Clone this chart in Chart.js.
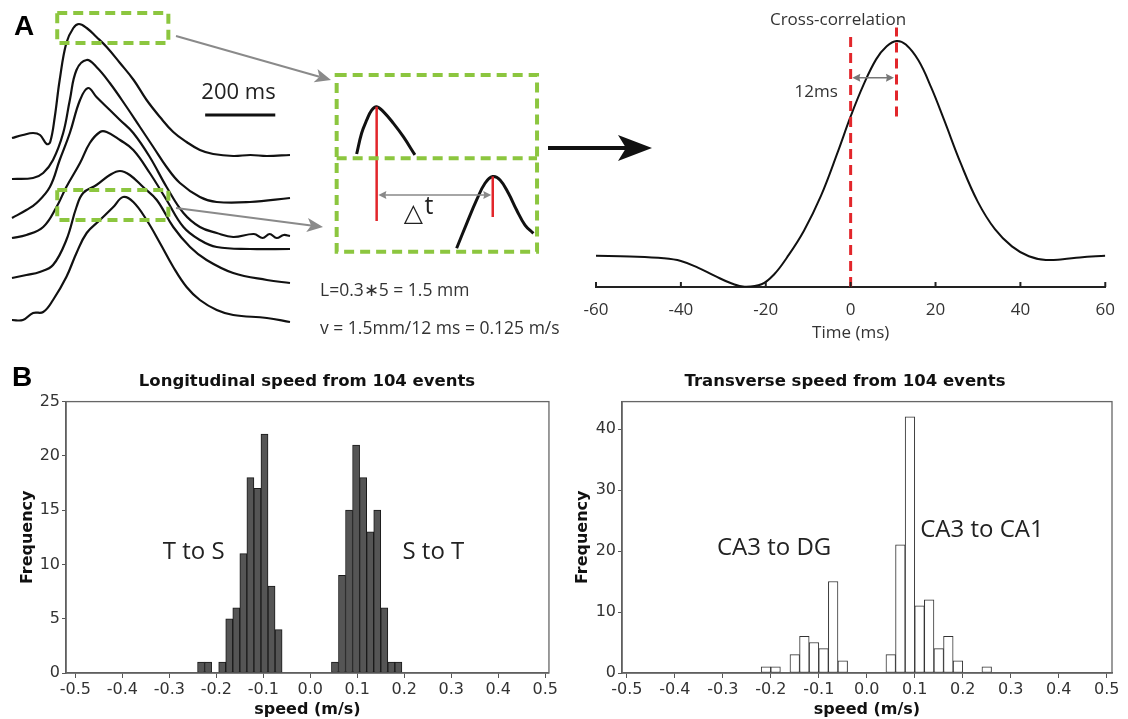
<!DOCTYPE html>
<html>
<head>
<meta charset="utf-8">
<title>Propagation speed</title>
<script src="https://cdn.jsdelivr.net/npm/chart.js@4.4.1/dist/chart.umd.min.js"></script>
<style>
  html, body { margin: 0; padding: 0; background: #fff; }
  #figure { position: relative; width: 1128px; height: 719px; overflow: hidden; }
  #figure canvas { position: absolute; }
  .label { position: absolute; white-space: nowrap; line-height: 1; transform: translate(-50%, -50%);
           color: #333; font-family: "Open Sans", sans-serif; }
  .left { transform: translate(0, -50%); }
  .panel { font-family: "Liberation Sans", Arial, sans-serif; font-weight: bold; font-size: 28px; color: #000; }
  .htitle { font-family: "DejaVu Sans", sans-serif; font-weight: bold; font-size: 16.5px; color: #111; }
</style>
</head>
<body>
<div id="figure">
  <canvas id="tracesChart" width="300" height="340" style="left:0;top:0"></canvas>
  <canvas id="zoomChart" width="215" height="190" style="left:330px;top:70px"></canvas>
  <canvas id="xcorrChart" width="568" height="345" style="left:560px;top:0"></canvas>
  <canvas id="longChart" width="560" height="329" style="left:0;top:390px"></canvas>
  <canvas id="transChart" width="568" height="329" style="left:560px;top:390px"></canvas>
  <canvas id="arrows" width="1128" height="719" style="left:0;top:0"></canvas>

  <div class="label panel" style="left:24px;top:26px">A</div>
  <div class="label panel" style="left:22px;top:377px">B</div>
  <div class="label left" style="left:320px;top:290px;font-size:17.5px">L=0.3&#8727;5 = 1.5 mm</div>
  <div class="label left" style="left:320px;top:328px;font-size:17.5px">v = 1.5mm/12 ms = 0.125 m/s</div>
  <div class="label" style="left:838px;top:18px;font-size:17px">Cross-correlation</div>
  <div class="label htitle" style="left:307px;top:381px">Longitudinal speed from 104 events</div>
  <div class="label htitle" style="left:845px;top:381px">Transverse speed from 104 events</div>
</div>

<script>
const GREEN = "#8cc63f";
const RED = "#e2262b";
const AXIS = "#555";

// Panel A, left: six field potential traces (time in ms, amplitude in arbitrary units)
const trace1Time = [0, 31, 60, 80, 99, 109, 122, 136, 155, 175, 191, 213, 241, 270, 308, 347, 384, 422, 460, 498, 536, 574, 631, 680, 727, 793];
const trace1Amp = [2.02, 2.05, 2.07, 2.05, 1.96, 1.98, 2.23, 2.60, 2.97, 3.12, 3.16, 3.12, 3.03, 2.93, 2.77, 2.60, 2.40, 2.23, 2.08, 1.98, 1.90, 1.86, 1.84, 1.85, 1.84, 1.85];
const trace2Time = [0, 60, 89, 117, 146, 165, 184, 213, 241, 279, 327, 365, 403, 441, 479, 536, 584, 679, 793];
const trace2Amp = [1.61, 1.62, 1.67, 1.80, 2.07, 2.40, 2.70, 2.80, 2.73, 2.57, 2.33, 2.13, 1.93, 1.73, 1.57, 1.43, 1.38, 1.38, 1.42];
const trace3Time = [0, 41, 70, 108, 136, 165, 194, 217, 241, 279, 308, 346, 393, 441, 489, 536, 584, 631, 690, 715, 735, 755, 775, 793];
const trace3Amp = [1.22, 1.30, 1.37, 1.53, 1.80, 2.07, 2.40, 2.52, 2.43, 2.30, 2.20, 2.07, 1.83, 1.53, 1.27, 1.13, 1.07, 1.03, 1.06, 1.02, 1.06, 1.02, 1.05, 1.04];
const trace4Time = [0, 41, 89, 127, 155, 194, 222, 251, 270, 308, 346, 393, 441, 489, 536, 584, 679, 793];
const trace4Amp = [1.02, 1.05, 1.13, 1.33, 1.53, 1.77, 1.97, 2.08, 2.08, 2.00, 1.90, 1.67, 1.40, 1.13, 1.00, 0.93, 0.91, 0.91];
const trace5Time = [0, 41, 79, 117, 155, 184, 203, 241, 279, 308, 336, 374, 413, 460, 508, 555, 631, 727, 793];
const trace5Amp = [0.62, 0.65, 0.68, 0.75, 1.00, 1.33, 1.47, 1.55, 1.65, 1.69, 1.65, 1.53, 1.40, 1.13, 0.93, 0.80, 0.67, 0.60, 0.57];
const trace6Time = [0, 31, 60, 89, 117, 155, 184, 213, 251, 289, 317, 346, 384, 422, 460, 498, 536, 584, 631, 727, 793];
const trace6Amp = [0.20, 0.20, 0.27, 0.28, 0.40, 0.63, 0.87, 1.07, 1.20, 1.33, 1.43, 1.38, 1.20, 0.97, 0.73, 0.53, 0.40, 0.30, 0.25, 0.22, 0.18];
const scaleBarStart = 551;
const scaleBarMs = 200;

// Panel A, middle: the two boxed peaks, in schematic units (0-100)
const peakUpperX = [12.4, 14.7, 17.1, 19.4, 21.7, 24.8, 29.5, 34.1, 39.5];
const peakUpperY = [55.8, 66.7, 73.7, 78.9, 80.7, 78.1, 71.9, 64.9, 55.3];
const peakLowerX = [58.9, 63.6, 68.2, 72.1, 75.7, 79.1, 83.0, 86.8, 90.7, 94.6];
const peakLowerY = [6.2, 19.3, 31.6, 40.4, 43.9, 42.1, 35.1, 26.3, 18.4, 14.0];

// Panel A, right: cross-correlation (normalised)
const lagMs = [-60, -52, -44, -40, -36, -32, -28, -25, -21, -18, -15, -11, -7, -3, 0, 3, 6, 8.5, 10.8, 13, 16, 19, 22, 26, 30, 34, 38, 42, 46, 50, 54, 60];
const xcorr = [0.127, 0.124, 0.117, 0.106, 0.079, 0.045, 0.014, 0.001, 0.011, 0.052, 0.120, 0.229, 0.370, 0.550, 0.693, 0.820, 0.925, 0.978, 1.0, 0.985, 0.920, 0.810, 0.680, 0.500, 0.345, 0.235, 0.165, 0.125, 0.110, 0.113, 0.120, 0.127];
const peakLagMs = 10.8;

// Panel B: histograms (bin centre in m/s, count)
const longSpeed = [-0.2325, -0.2175, -0.2025, -0.1875, -0.1725, -0.1575, -0.1425, -0.1275, -0.1125, -0.0975, -0.0825, -0.0675,
                   0.0525, 0.0675, 0.0825, 0.0975, 0.1125, 0.1275, 0.1425, 0.1575, 0.1725, 0.1875];
const longCount = [1, 1, 0, 1, 5, 6, 11, 18, 17, 22, 8, 4,
                   1, 9, 15, 21, 18, 13, 15, 6, 1, 1];
const transSpeed = [-0.21, -0.19, -0.17, -0.15, -0.13, -0.11, -0.09, -0.07, -0.05,
                    0.05, 0.07, 0.09, 0.11, 0.13, 0.15, 0.17, 0.19, 0.21, 0.23, 0.25];
const transCount = [1, 1, 0, 3, 6, 5, 4, 15, 2,
                    3, 21, 42, 11, 12, 4, 6, 2, 0, 0, 1];

Chart.defaults.font.family = '"DejaVu Sans", sans-serif';
Chart.defaults.animation = false;
Chart.defaults.events = [];
Chart.defaults.plugins.legend.display = false;
Chart.defaults.plugins.tooltip.enabled = false;

// text placed in data coordinates
const notesPlugin = {
  id: "notes",
  afterDatasetsDraw(chart, args, opts) {
    const { ctx, scales } = chart;
    (opts.items || []).forEach(n => {
      ctx.save();
      ctx.font = n.font;
      ctx.fillStyle = n.color || "#333";
      ctx.textAlign = n.align || "center";
      ctx.textBaseline = "middle";
      ctx.fillText(n.text, scales.x.getPixelForValue(n.x), scales.y.getPixelForValue(n.y));
      ctx.restore();
    });
  }
};

// dashed green zoom boxes (rectangles, or single horizontal dividers)
const boxesPlugin = {
  id: "boxes",
  afterDatasetsDraw(chart, args, opts) {
    if (!opts.items) return;
    const { ctx, scales: { x, y } } = chart;
    ctx.save();
    ctx.strokeStyle = GREEN;
    ctx.lineWidth = 4;
    ctx.setLineDash([10, 6]);
    opts.items.forEach(b => {
      const x0 = x.getPixelForValue(b.x0), x1 = x.getPixelForValue(b.x1);
      if (b.y !== undefined) {
        const py = y.getPixelForValue(b.y);
        ctx.beginPath();
        ctx.moveTo(x0, py);
        ctx.lineTo(x1, py);
        ctx.stroke();
        return;
      }
      const y0 = y.getPixelForValue(b.y1), y1 = y.getPixelForValue(b.y0);
      ctx.strokeRect(x0, y0, x1 - x0, y1 - y0);
    });
    ctx.restore();
  }
};

function arrowHead(ctx, tipX, tipY, dirX, dirY, len, half, notch) {
  const px = -dirY, py = dirX;
  ctx.beginPath();
  ctx.moveTo(tipX, tipY);
  ctx.lineTo(tipX - dirX * len + px * half, tipY - dirY * len + py * half);
  ctx.lineTo(tipX - dirX * (len - notch), tipY - dirY * (len - notch));
  ctx.lineTo(tipX - dirX * len - px * half, tipY - dirY * len - py * half);
  ctx.closePath();
  ctx.fill();
}

// horizontal double-headed arrows in data coordinates
const spanPlugin = {
  id: "spans",
  afterDatasetsDraw(chart, args, opts) {
    if (!opts.items) return;
    const { ctx, scales: { x, y } } = chart;
    opts.items.forEach(a => {
      const x0 = x.getPixelForValue(a.x0), x1 = x.getPixelForValue(a.x1), py = y.getPixelForValue(a.y);
      ctx.save();
      ctx.strokeStyle = a.color;
      ctx.fillStyle = a.color;
      ctx.lineWidth = a.width;
      ctx.beginPath();
      ctx.moveTo(x0 + 3, py);
      ctx.lineTo(x1 - 3, py);
      ctx.stroke();
      arrowHead(ctx, x0, py, -1, 0, 8, 4, 1);
      arrowHead(ctx, x1, py, 1, 0, 8, 4, 1);
      ctx.restore();
    });
  }
};

// frame around the histogram plot area
const framePlugin = {
  id: "frame",
  afterDatasetsDraw(chart, args, opts) {
    if (!opts.display) return;
    const { ctx, chartArea: a } = chart;
    ctx.save();
    ctx.strokeStyle = opts.color;
    ctx.lineWidth = 1.3;
    ctx.strokeRect(a.left, a.top, a.right - a.left, a.bottom - a.top);
    ctx.restore();
  }
};

// tick marks pointing up from the x axis line
const innerTicksPlugin = {
  id: "innerTicks",
  afterDraw(chart, args, opts) {
    if (!opts.length) return;
    const { ctx, scales: { x }, chartArea } = chart;
    ctx.save();
    ctx.strokeStyle = "#222";
    ctx.lineWidth = 2;
    x.ticks.forEach(t => {
      const px = x.getPixelForValue(t.value);
      ctx.beginPath();
      ctx.moveTo(px, chartArea.bottom);
      ctx.lineTo(px, chartArea.bottom - opts.length);
      ctx.stroke();
    });
    ctx.restore();
  }
};

Chart.register(notesPlugin, boxesPlugin, spanPlugin, framePlugin, innerTicksPlugin);

function pairs(xs, ys) {
  return xs.map((v, i) => ({ x: v, y: ys[i] }));
}

function initTracesChart() {
  const times = [trace1Time, trace2Time, trace3Time, trace4Time, trace5Time, trace6Time];
  const amps = [trace1Amp, trace2Amp, trace3Amp, trace4Amp, trace5Amp, trace6Amp];
  const datasets = times.map((t, i) => ({
    data: pairs(t, amps[i]),
    borderColor: "#111",
    borderWidth: 2.2,
    pointRadius: 0,
    tension: 0.4,
    clip: false,
  }));
  datasets.push({
    data: [{ x: scaleBarStart, y: 2.25 }, { x: scaleBarStart + scaleBarMs, y: 2.25 }],
    borderColor: "#111",
    borderWidth: 3,
    pointRadius: 0,
  });

  new Chart(document.getElementById("tracesChart"), {
    type: "line",
    data: { datasets },
    options: {
      responsive: false,
      layout: { padding: { left: 12, right: 10, top: 0, bottom: 0 } },
      plugins: {
        boxes: {
          items: [
            { x0: 129, x1: 446, y0: 2.97, y1: 3.27 },
            { x0: 129, x1: 446, y0: 1.20, y1: 1.50 },
          ],
        },
        notes: {
          items: [{ text: scaleBarMs + " ms", x: scaleBarStart + scaleBarMs / 2 - 5, y: 2.47, font: '22px "Open Sans"', color: "#222" }],
        },
      },
      scales: {
        x: { type: "linear", display: false, min: 0, max: 793 },
        y: { display: false, min: 0, max: 3.4 },
      },
    },
  });
}

function initZoomChart() {
  const peakStyle = { borderColor: "#111", borderWidth: 3, pointRadius: 0, tension: 0.4 };
  const redStyle = { borderColor: RED, borderWidth: 2.5, pointRadius: 0 };
  const upperTop = peakUpperY[peakUpperX.indexOf(21.7)];
  const lowerTop = peakLowerY[peakLowerX.indexOf(75.7)];

  new Chart(document.getElementById("zoomChart"), {
    type: "line",
    data: {
      datasets: [
        { data: [{ x: 21.7, y: upperTop }, { x: 21.7, y: 20.5 }], ...redStyle },
        { data: [{ x: 75.7, y: lowerTop }, { x: 75.7, y: 22.6 }], ...redStyle },
        { data: pairs(peakUpperX, peakUpperY), ...peakStyle },
        { data: pairs(peakLowerX, peakLowerY), ...peakStyle },
      ],
    },
    options: {
      responsive: false,
      plugins: {
        boxes: {
          items: [
            { x0: 3.1, x1: 96.3, y0: 4.4, y1: 97.4 },
            { x0: 3.1, x1: 96.3, y: 53.5 },
          ],
        },
        spans: { items: [{ x0: 22.5, x1: 75, y: 34.2, color: "#888", width: 1.5 }] },
        notes: {
          items: [
            { text: "\u25B3", x: 38.8, y: 24, font: '25px "DejaVu Sans"', color: "#222" },
            { text: "t", x: 46, y: 28, font: '25px "Open Sans"', color: "#222" },
          ],
        },
      },
      scales: {
        x: { type: "linear", display: false, min: 0, max: 100 },
        y: { display: false, min: 0, max: 100 },
      },
    },
  });
}

function initXcorrChart() {
  const redStyle = { borderColor: RED, borderWidth: 3, borderDash: [10, 6], pointRadius: 0 };

  new Chart(document.getElementById("xcorrChart"), {
    type: "line",
    data: {
      datasets: [
        { data: [{ x: 0, y: 0 }, { x: 0, y: 1.02 }], ...redStyle },
        { data: [{ x: peakLagMs, y: 0.693 }, { x: peakLagMs, y: 1.055 }], ...redStyle },
        {
          data: pairs(lagMs, xcorr),
          borderColor: "#111",
          borderWidth: 2,
          pointRadius: 0,
          tension: 0.4,
        },
      ],
    },
    options: {
      responsive: false,
      layout: { padding: { left: 36, right: 20, top: 20, bottom: 0 } },
      plugins: {
        innerTicks: { length: 5 },
        spans: { items: [{ x0: 0.4, x1: 10.2, y: 0.85, color: "#777", width: 1.5 }] },
        notes: { items: [{ text: "12ms", x: -8.1, y: 0.79, font: '17px "Open Sans"', color: "#333" }] },
      },
      scales: {
        x: {
          type: "linear",
          min: -60,
          max: 60,
          afterFit: s => { s.height = 58; },
          grid: { display: false, drawTicks: false },
          border: { display: true, color: "#222", width: 2 },
          ticks: { stepSize: 20, padding: 13, color: "#333", font: { family: '"Open Sans"', size: 17 }, maxRotation: 0 },
          title: { display: true, text: "Time (ms)", color: "#333", font: { family: '"Open Sans"', size: 17 }, padding: { top: 0, bottom: 2 } },
        },
        y: { display: false, min: 0, max: 1.085 },
      },
    },
  });
}

function initHistogram(id, speeds, counts, cfg) {
  new Chart(document.getElementById(id), {
    type: "bar",
    data: {
      datasets: [{
        data: pairs(speeds, counts),
        backgroundColor: cfg.fill,
        borderColor: cfg.edge,
        borderWidth: 1,
        borderSkipped: false,
        barPercentage: 1,
        categoryPercentage: 1,
      }],
    },
    options: {
      responsive: false,
      layout: { padding: cfg.padding },
      plugins: {
        frame: { display: true, color: "#666" },
        notes: { items: cfg.notes },
      },
      scales: {
        x: {
          type: "linear",
          offset: false,
          min: cfg.xMin,
          max: cfg.xMax,
          afterFit: s => { s.height = 46; },
          grid: { display: true, drawOnChartArea: false, drawTicks: true, tickLength: 5, color: AXIS, offset: false },
          border: { color: AXIS, width: 1.5 },
          ticks: {
            stepSize: 0.1,
            includeBounds: false,
            padding: 2,
            color: "#333",
            font: { size: 16 },
            maxRotation: 0,
            autoSkip: false,
            callback: v => (Math.abs(v) < 1e-9 ? 0 : v).toFixed(1),
          },
          title: { display: true, text: "speed (m/s)", color: "#111", font: { size: 16, weight: "bold" }, padding: { top: 0, bottom: 0 } },
        },
        y: {
          min: 0,
          max: cfg.yMax,
          afterFit: s => { s.width = cfg.yWidth; },
          grid: { display: true, drawOnChartArea: false, drawTicks: true, tickLength: 4, color: AXIS },
          border: { color: AXIS, width: 1.5 },
          ticks: { stepSize: cfg.yStep, includeBounds: false, padding: 2, color: "#333", font: { size: 16 } },
          title: { display: true, text: "Frequency", color: "#111", font: { size: 16, weight: "bold" }, padding: { top: cfg.titleOffset, bottom: 0 } },
        },
      },
    },
  });
}

function drawConnectors() {
  const ctx = document.getElementById("arrows").getContext("2d");
  const line = (x0, y0, x1, y1, color, width, len, half, notch) => {
    const d = Math.hypot(x1 - x0, y1 - y0), ux = (x1 - x0) / d, uy = (y1 - y0) / d;
    ctx.strokeStyle = color;
    ctx.fillStyle = color;
    ctx.lineWidth = width;
    ctx.beginPath();
    ctx.moveTo(x0, y0);
    ctx.lineTo(x1 - ux * (len - notch), y1 - uy * (len - notch));
    ctx.stroke();
    arrowHead(ctx, x1, y1, ux, uy, len, half, notch);
  };
  line(176, 36, 331, 80, "#8a8a8a", 2, 16, 7, 4);
  line(176, 208, 323, 227, "#8a8a8a", 2, 16, 7, 4);
  line(548, 148, 652, 148, "#111", 4, 34, 13, 8);
}

document.addEventListener("DOMContentLoaded", function () {
  initTracesChart();
  initZoomChart();
  initXcorrChart();
  initHistogram("longChart", longSpeed, longCount, {
    fill: "rgb(85, 85, 85)",
    edge: "#1a1a1a",
    xMin: -0.52,
    xMax: 0.508,
    yMax: 25,
    yStep: 5,
    yWidth: 66,
    titleOffset: 18,
    padding: { left: 0, right: 10, top: 8, bottom: 0 },
    notes: [
      { text: "T to S", x: -0.248, y: 11.1, font: '24px "Open Sans"', color: "#222" },
      { text: "S to T", x: 0.262, y: 11.1, font: '24px "Open Sans"', color: "#222" },
    ],
  });
  initHistogram("transChart", transSpeed, transCount, {
    fill: "#fff",
    edge: "#333",
    xMin: -0.51,
    xMax: 0.511,
    yMax: 44.5,
    yStep: 10,
    yWidth: 62,
    titleOffset: 13,
    padding: { left: 0, right: 16, top: 11, bottom: 0 },
    notes: [
      { text: "CA3 to DG", x: -0.193, y: 20.4, font: '24px "Open Sans"', color: "#222" },
      { text: "CA3 to CA1", x: 0.24, y: 23.5, font: '24px "Open Sans"', color: "#222" },
    ],
  });
  drawConnectors();
});
</script>
</body>
</html>
